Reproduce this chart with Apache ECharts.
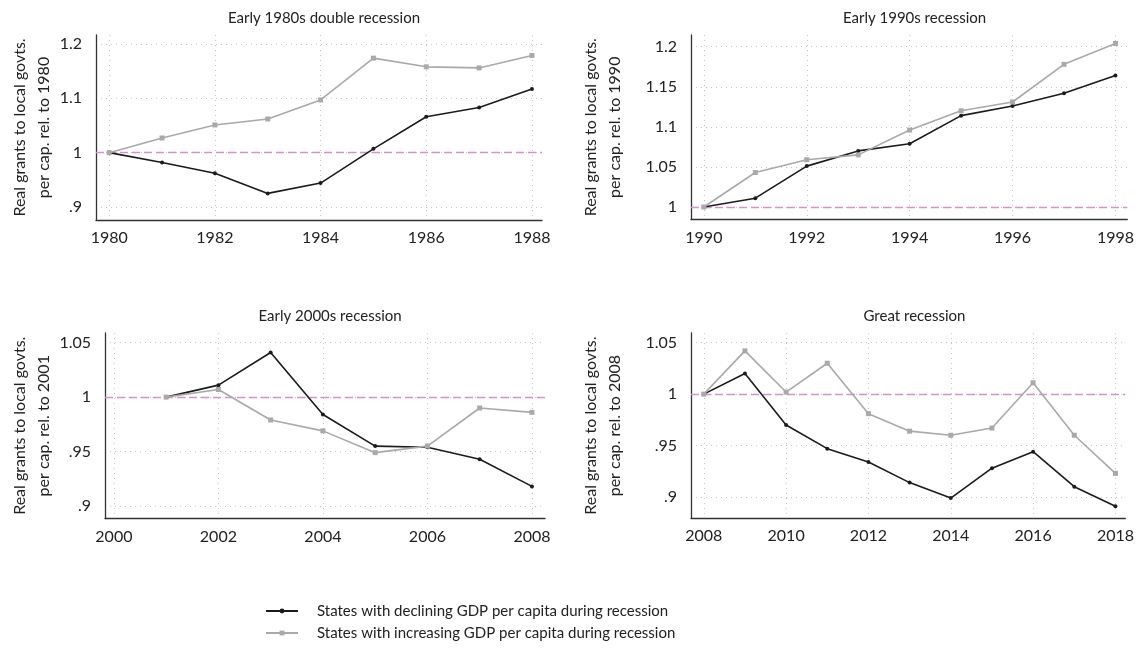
<!DOCTYPE html>
<html>
<head>
<meta charset="utf-8">
<script src="https://cdn.jsdelivr.net/npm/echarts@6/dist/echarts.min.js"></script>
<style>
  html, body { margin: 0; padding: 0; background: #fff; }
  #chart { width: 1137px; height: 654px; }
</style>
</head>
<body>
<div id="chart"></div>
<script>
// Series names
const nameDeclining = 'States with declining GDP per capita during recession';
const nameIncreasing = 'States with increasing GDP per capita during recession';

// Early 1980s double recession (relative to 1980)
const years1980s = [1980, 1981, 1982, 1983, 1984, 1985, 1986, 1987, 1988];
const declining1980s = [1.000, 0.982, 0.962, 0.925, 0.944, 1.007, 1.066, 1.083, 1.117];
const increasing1980s = [1.000, 1.027, 1.051, 1.062, 1.097, 1.174, 1.158, 1.156, 1.179];
const xTicks1980s = [1980, 1982, 1984, 1986, 1988];
const yTicks1980s = [0.9, 1, 1.1, 1.2];

// Early 1990s recession (relative to 1990)
const years1990s = [1990, 1991, 1992, 1993, 1994, 1995, 1996, 1997, 1998];
const declining1990s = [1.000, 1.011, 1.051, 1.070, 1.079, 1.114, 1.126, 1.142, 1.164];
const increasing1990s = [1.000, 1.043, 1.059, 1.065, 1.096, 1.120, 1.131, 1.178, 1.204];
const xTicks1990s = [1990, 1992, 1994, 1996, 1998];
const yTicks1990s = [1, 1.05, 1.1, 1.15, 1.2];

// Early 2000s recession (relative to 2001)
const years2000s = [2001, 2002, 2003, 2004, 2005, 2006, 2007, 2008];
const declining2000s = [1.000, 1.011, 1.041, 0.984, 0.955, 0.954, 0.943, 0.918];
const increasing2000s = [1.000, 1.007, 0.979, 0.969, 0.949, 0.955, 0.990, 0.986];
const xTicks2000s = [2000, 2002, 2004, 2006, 2008];
const yTicks2000s = [0.9, 0.95, 1, 1.05];

// Great recession (relative to 2008)
const yearsGreat = [2008, 2009, 2010, 2011, 2012, 2013, 2014, 2015, 2016, 2017, 2018];
const decliningGreat = [1.000, 1.020, 0.970, 0.947, 0.934, 0.914, 0.899, 0.928, 0.944, 0.910, 0.891];
const increasingGreat = [1.000, 1.042, 1.002, 1.030, 0.981, 0.964, 0.960, 0.967, 1.011, 0.960, 0.923];
const xTicksGreat = [2008, 2010, 2012, 2014, 2016, 2018];
const yTicksGreat = [0.9, 0.95, 1, 1.05];

const FONT = 'Lato, "Open Sans", sans-serif';
const TEXT = '#222';
const AXIS = '#333';
const GRID = '#c4c4c4';
const BLACK = '#1b1b1b';
const GRAY = '#a9a9a9';
const REF = '#d690cc';

// Panel layout: plot rectangles, axis ranges and title placement
const panels = [
  { title: 'Early 1980s double recession', base: 1980,
    years: years1980s, dec: declining1980s, inc: increasing1980s,
    xTicks: xTicks1980s, yTicks: yTicks1980s,
    grid: { left: 96, right: 595, top: 35, bottom: 434 },
    xRange: [1979.75, 1988.19], yRange: [0.876, 1.2166], nameGap: 40 },
  { title: 'Early 1990s recession', base: 1990,
    years: years1990s, dec: declining1990s, inc: increasing1990s,
    xTicks: xTicks1990s, yTicks: yTicks1990s,
    grid: { left: 691, right: 9, top: 35, bottom: 434.5 },
    xRange: [1989.75, 1998.23], yRange: [0.9844, 1.2146], nameGap: 64 },
  { title: 'Early 2000s recession', base: 2001,
    years: years2000s, dec: declining2000s, inc: increasing2000s,
    xTicks: xTicks2000s, yTicks: yTicks2000s,
    grid: { left: 105, right: 592, top: 333, bottom: 135.5 },
    xRange: [1999.83, 2008.25], yRange: [0.8885, 1.0589], nameGap: 49 },
  { title: 'Great recession', base: 2008,
    years: yearsGreat, dec: decliningGreat, inc: increasingGreat,
    xTicks: xTicksGreat, yTicks: yTicksGreat,
    grid: { left: 691, right: 9, top: 333, bottom: 135.7 },
    xRange: [2007.69, 2018.24], yRange: [0.8793, 1.0594], nameGap: 64 }
];

const fmtY = v => String(+v.toFixed(3)).replace(/^0\./, '.');

const grids = [], xAxes = [], yAxes = [], titles = [], series = [];

panels.forEach((p, i) => {
  grids.push(Object.assign({ containLabel: false }, p.grid));
  const plotLeft = p.grid.left;
  const plotRight = 1137 - p.grid.right;
  titles.push({
    text: p.title,
    left: (plotLeft + plotRight) / 2,
    top: p.grid.top - 31,
    textAlign: 'center',
    textStyle: { fontFamily: FONT, fontSize: 15, lineHeight: 18, fontWeight: 'normal', color: TEXT }
  });
  xAxes.push({
    type: 'value', gridIndex: i,
    min: p.xRange[0], max: p.xRange[1],
    axisLine: { show: true, onZero: false, lineStyle: { color: AXIS, width: 1.3 } },
    axisTick: { show: false, customValues: p.xTicks },
    axisLabel: { customValues: p.xTicks, margin: 10, fontFamily: FONT, fontSize: 16, color: TEXT,
                 formatter: v => String(Math.round(v)) },
    splitLine: { show: true, lineStyle: { color: GRID, type: [1, 4], width: 1 } }
  });
  yAxes.push({
    type: 'value', gridIndex: i,
    min: p.yRange[0], max: p.yRange[1],
    name: 'Real grants to local govts.\nper cap. rel. to ' + p.base,
    nameLocation: 'middle', nameGap: p.nameGap,
    nameTextStyle: { fontFamily: FONT, fontSize: 16, color: TEXT, lineHeight: 24 },
    axisLine: { show: true, onZero: false, lineStyle: { color: AXIS, width: 1.3 } },
    axisTick: { show: false, customValues: p.yTicks },
    axisLabel: { customValues: p.yTicks, margin: 14, fontFamily: FONT, fontSize: 16, color: TEXT,
                 formatter: fmtY },
    splitLine: { show: true, lineStyle: { color: GRID, type: [1, 4], width: 1 } }
  });
  series.push({
    name: nameDeclining, type: 'line', xAxisIndex: i, yAxisIndex: i,
    data: p.years.map((y, k) => [y, p.dec[k]]),
    symbol: 'circle', symbolSize: 4, showSymbol: true,
    itemStyle: { color: BLACK },
    lineStyle: { color: BLACK, width: 1.6 },
    z: 3,
    markLine: {
      silent: true, symbol: 'none', animation: false,
      label: { show: false },
      lineStyle: { color: REF, type: [8, 4], width: 1.4 },
      data: [{ yAxis: 1 }],
      z: 2
    }
  });
  series.push({
    name: nameIncreasing, type: 'line', xAxisIndex: i, yAxisIndex: i,
    data: p.years.map((y, k) => [y, p.inc[k]]),
    symbol: 'rect', symbolSize: 5, showSymbol: true,
    itemStyle: { color: GRAY },
    lineStyle: { color: GRAY, width: 1.6 },
    z: 4
  });
});

const chart = echarts.init(document.getElementById('chart'), null, { renderer: 'canvas' });
chart.setOption({
  animation: false,
  backgroundColor: '#fff',
  textStyle: { fontFamily: FONT },
  title: titles,
  grid: grids,
  xAxis: xAxes,
  yAxis: yAxes,
  legend: {
    orient: 'vertical',
    left: 260, top: 598,
    itemWidth: 32, itemHeight: 6, itemGap: 6,
    data: [nameDeclining, nameIncreasing],
    textStyle: { fontFamily: FONT, fontSize: 15, lineHeight: 16, color: TEXT, padding: [0, 0, 0, 14] },
    selectedMode: false
  },
  series: series
});
</script>
</body>
</html>
